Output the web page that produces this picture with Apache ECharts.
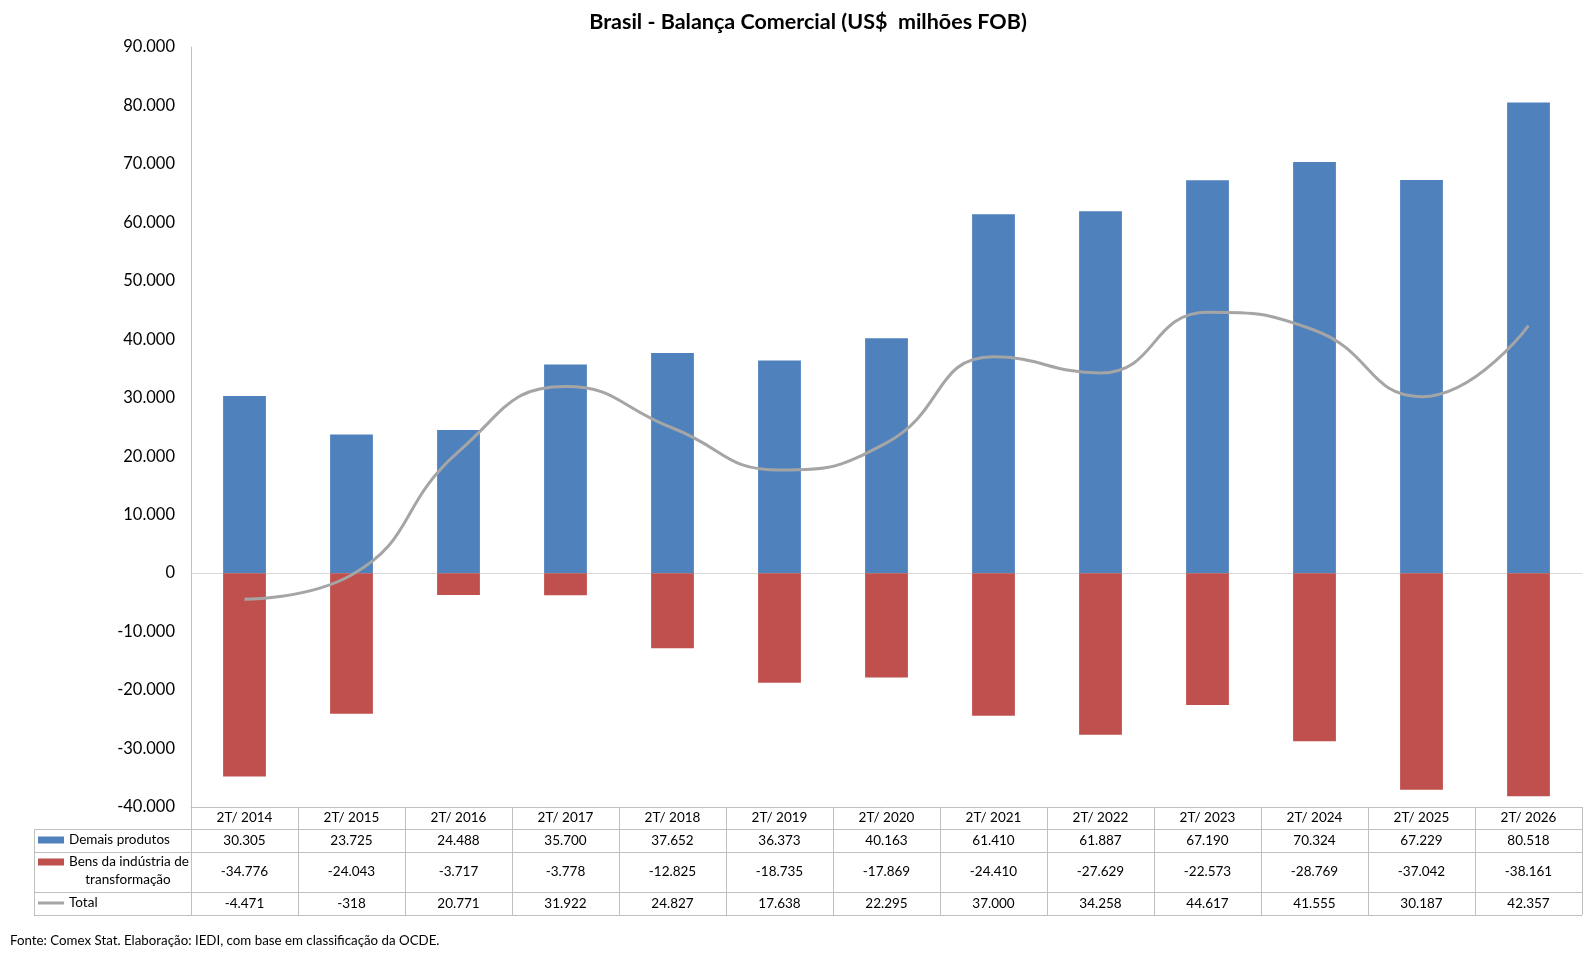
<!DOCTYPE html>
<html>
<head>
<meta charset="utf-8">
<title>Brasil - Balança Comercial</title>
<script src="https://cdn.jsdelivr.net/npm/echarts@6/dist/echarts.min.js"></script>
<style>
	html, body { margin: 0; padding: 0; background: #fff; }
	#chart { width: 1594px; height: 956px; }
</style>
</head>
<body>
<div id="chart"></div>
<script>
var categories = ['2T/ 2014', '2T/ 2015', '2T/ 2016', '2T/ 2017', '2T/ 2018', '2T/ 2019', '2T/ 2020',
	'2T/ 2021', '2T/ 2022', '2T/ 2023', '2T/ 2024', '2T/ 2025', '2T/ 2026'];
var demais = [30305, 23725, 24488, 35700, 37652, 36373, 40163, 61410, 61887, 67190, 70324, 67229, 80518];
var bens = [-34776, -24043, -3717, -3778, -12825, -18735, -17869, -24410, -27629, -22573, -28769, -37042, -38161];
var total = [-4471, -318, 20771, 31922, 24827, 17638, 22295, 37000, 34258, 44617, 41555, 30187, 42357];
var yMin = -40000, yMax = 90000, yStep = 10000;

var FONT = 'Lato';
var LINE = '#BFBFBF';
var CELL = 13.5;

// layout of the plot and the table under it
var gridLeft = 191, gridRight = 12, gridTop = 47, gridBottom = 149;
var plotBottom = 956 - gridBottom;
var tableLeft = 34, tableRight = 1594 - gridRight;
var rowLines = [829, 852, 892, 915];

function fmt(v) {
	var s = String(Math.abs(v)).replace(/\B(?=(\d{3})+(?!\d))/g, '.');
	return (v < 0 ? '-' : '') + s;
}

function rowAxis(values, centerY) {
	return {
		type: 'category',
		data: categories,
		position: 'bottom',
		axisLine: { show: false, onZero: false },
		axisTick: { show: false },
		axisLabel: {
			interval: 0,
			margin: centerY - plotBottom,
			verticalAlign: 'middle',
			fontFamily: FONT,
			fontSize: CELL,
			color: '#000',
			formatter: function (v, i) { return fmt(values[i]); }
		}
	};
}

function legendAt(name, top, height, icon) {
	return {
		data: [{ name: name, icon: icon }],
		left: 38,
		top: top,
		padding: 0,
		itemWidth: 26,
		itemHeight: height,
		selectedMode: false,
		formatter: function (n) { return n.indexOf('Bens') === 0 ? 'Bens da indústria de' : n; },
		textStyle: { fontFamily: FONT, fontSize: CELL, color: '#000' }
	};
}

var graphics = rowLines.map(function (y) {
	return {
		type: 'line', silent: true,
		shape: { x1: tableLeft, y1: y + 0.5, x2: tableRight, y2: y + 0.5 },
		style: { stroke: LINE, lineWidth: 1 }
	};
});
graphics.push({
	type: 'line', silent: true,
	shape: { x1: tableLeft + 0.5, y1: rowLines[0], x2: tableLeft + 0.5, y2: rowLines[3] },
	style: { stroke: LINE, lineWidth: 1 }
});
graphics.push({
	type: 'text', left: 10, top: 934,
	style: {
		text: 'Fonte: Comex Stat. Elaboração: IEDI, com base em classificação da OCDE.',
		fontFamily: FONT, fontSize: 13.3, fill: '#000'
	}
});
graphics.push({
	type: 'text', x: 128, y: 880,
	style: {
		text: 'transformação', align: 'center', verticalAlign: 'middle',
		fontFamily: FONT, fontSize: CELL, fill: '#000'
	}
});

var chart = echarts.init(document.getElementById('chart'));
var option = {
	animation: false,
	title: {
		text: 'Brasil - Balança Comercial (US$  milhões FOB)',
		left: 803,
		textAlign: 'center',
		top: 6,
		textStyle: { fontFamily: FONT, fontSize: 21.5, fontWeight: 'bold', color: '#000' }
	},
	legend: [
		legendAt('Demais produtos', 833, 7, 'rect'),
		legendAt('Bens da indústria de transformação', 855, 7, 'rect'),
		legendAt('Total', 896, 3, 'rect')
	],
	grid: { left: gridLeft, right: gridRight, top: gridTop, bottom: gridBottom },
	xAxis: [
		{
			type: 'category',
			data: categories,
			axisLine: { show: true, onZero: true, lineStyle: { color: '#D9D9D9' } },
			axisTick: { show: false },
			axisLabel: { show: false }
		},
		{
			type: 'category',
			data: categories,
			position: 'bottom',
			axisLine: { show: true, onZero: false, lineStyle: { color: LINE } },
			axisTick: { show: true, interval: 0, length: rowLines[3] - plotBottom, lineStyle: { color: LINE } },
			axisLabel: {
				interval: 0,
				margin: 11,
				verticalAlign: 'middle',
				fontFamily: FONT,
				fontSize: CELL,
				color: '#000'
			}
		},
		rowAxis(demais, 840.5),
		rowAxis(bens, 872),
		rowAxis(total, 903.5)
	],
	yAxis: {
		type: 'value',
		min: yMin,
		max: yMax,
		interval: yStep,
		axisLine: { show: true, lineStyle: { color: LINE } },
		axisTick: { show: false },
		splitLine: { show: false },
		axisLabel: {
			margin: 16,
			fontFamily: FONT,
			fontSize: 16.5,
			color: '#000',
			formatter: function (v) { return fmt(v); }
		}
	},
	series: [
		{
			name: 'Demais produtos',
			type: 'bar',
			stack: 'balanca',
			barWidth: '40%',
			itemStyle: { color: '#4F81BD' },
			data: demais
		},
		{
			name: 'Bens da indústria de transformação',
			type: 'bar',
			stack: 'balanca',
			barWidth: '40%',
			itemStyle: { color: '#C0504D' },
			data: bens
		},
		{
			name: 'Total',
			type: 'line',
			smooth: 0.5,
			symbol: 'none',
			z: 5,
			lineStyle: { color: '#A5A5A5', width: 3 },
			itemStyle: { color: '#A5A5A5' },
			data: total
		}
	],
	graphic: graphics
};
chart.setOption(option);
</script>
</body>
</html>
